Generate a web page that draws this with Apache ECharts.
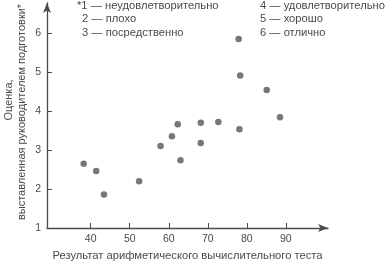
<!DOCTYPE html>
<html><head><meta charset="utf-8">
<script src="https://cdn.jsdelivr.net/npm/echarts@6/dist/echarts.min.js"></script>
<style>html,body{margin:0;padding:0;background:#fff}#c{width:389px;height:266px}</style>
</head><body><div id="c"></div>
<script>
const testScores = [38.2, 41.4, 43.4, 52.4, 57.9, 60.8, 62.3, 63.0, 68.2, 68.2, 72.7, 78.1, 77.9, 78.3, 85.1, 88.5];
const ratings    = [2.65, 2.46, 1.86, 2.2, 3.1, 3.35, 3.66, 2.74, 3.70, 3.18, 3.72, 3.53, 5.85, 4.91, 4.54, 3.84];
const xTicks = [40, 50, 60, 70, 80, 90];
const yTicks = [1, 2, 3, 4, 5, 6];
const notesLeft = ['*1 — неудовлетворительно', '2 — плохо', '3 — посредственно'];
const notesRight = ['4 — удовлетворительно', '5 — хорошо', '6 — отлично'];
const xTitle = 'Результат арифметического вычислительного теста';
const yTitle = ['Оценка,', 'выставленная руководителем подготовки*'];

const ink = '#4a4a4a';
const font = 'Liberation Sans, Arial, sans-serif';
const yTitlePos = [[9, 100], [22, 112]];
const chart = echarts.init(document.getElementById('c'));
chart.setOption({
  animation: false,
  grid: {left: 47, right: 61, top: 3, bottom: 38, outerBoundsMode: 'none', containLabel: false},
  xAxis: {
    type: 'value', min: 28.8, max: 100.8,
    splitLine: {show: false},
    axisLine: {lineStyle: {color: ink, width: 1.3}, symbol: ['none', 'arrow'], symbolSize: [6, 10]},
    axisTick: {inside: true, length: 5, lineStyle: {color: ink}, customValues: xTicks},
    axisLabel: {color: ink, fontSize: 10.5, fontFamily: font, margin: 6, customValues: xTicks},
    name: xTitle, nameLocation: 'middle', nameGap: 22,
    nameTextStyle: {color: ink, fontSize: 11.2, fontFamily: font}
  },
  yAxis: {
    type: 'value', min: 1, max: 6.77,
    splitLine: {show: false},
    axisLine: {lineStyle: {color: ink, width: 1.3}, symbol: ['none', 'arrow'], symbolSize: [6, 10]},
    axisTick: {inside: true, length: 5, lineStyle: {color: ink}, customValues: yTicks},
    axisLabel: {color: ink, fontSize: 10.5, fontFamily: font, margin: 6, customValues: yTicks}
  },
  graphic: [
    ...yTitle.map((t, i) => ({type: 'text', x: yTitlePos[i][0], y: yTitlePos[i][1], rotation: Math.PI / 2,
      style: {text: t, fill: ink, fontSize: 11, fontFamily: font, align: 'center', verticalAlign: 'middle'}})),
    ...notesLeft.map((t, i) => ({type: 'text', left: i === 0 ? 77 : 82, top: 0 + i * 13.5,
      style: {text: t, fill: ink, fontSize: 11.2, fontFamily: font}})),
    ...notesRight.map((t, i) => ({type: 'text', left: 260, top: 0 + i * 13.5,
      style: {text: t, fill: ink, fontSize: 11.2, fontFamily: font}}))
  ],
  series: [{
    type: 'scatter', symbolSize: 6.5,
    itemStyle: {color: '#555'},
    data: testScores.map((x, i) => [x, ratings[i]])
  }]
});
</script></body></html>
